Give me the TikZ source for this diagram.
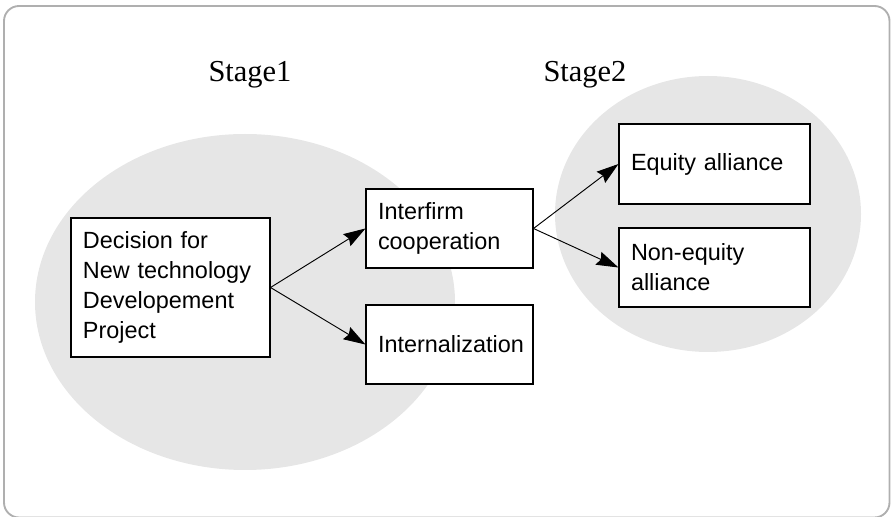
\documentclass[tikz,border=0pt]{standalone}
\usepackage{fontspec}
\setmainfont{Liberation Serif}
\setsansfont{Liberation Sans}
\usepackage{xcolor}
\usetikzlibrary{positioning,arrows.meta}
\definecolor{zonegray}{RGB}{230,230,230}
\definecolor{framegray}{RGB}{175,175,175}

\begin{document}
\begin{tikzpicture}[
	x=0.03cm, y=-0.03cm,
	box/.style={ % khung chu nhat co chu
		draw=black, line width=0.9pt,
		fill=white,
		font=\sffamily\fontsize{20}{25.5}\selectfont,
		align=left,
		inner xsep=0.36cm,
		inner ysep=0pt
	},
	stage/.style={ % tieu de giai doan
		font=\rmfamily\fontsize{26}{30}\selectfont
	},
	flow/.style={ % mui ten noi cac khung
		-{Stealth[length=0.66cm, width=0.42cm, inset=0.08cm]},
		black, line width=0.8pt
	}
	]
	\useasboundingbox (0,0) rectangle (891,517);
	
	% Khung ngoai bo goc
	\draw[framegray, line width=1.6pt, rounded corners=0.45cm] (4,6) rectangle (889.5,517.5);
	
	% Hai vung nen xam
	\fill[zonegray] (245,302) ellipse [x radius=210, y radius=168];
	\fill[zonegray] (708,214) ellipse [x radius=153, y radius=138];
	
	% Tieu de
	\node[stage] (st1) at (250,75) {Stage1};
	\node[stage] (st2) at (585,75) {Stage2};
	
	% ================= GIAI DOAN 1 =================
	\node[box, text width=5.25cm, minimum height=4.17cm] (dec) at (170.5,287.5)
		{Decision for\\New technology\\Developement\\Project};
	\node[box, text width=4.29cm, minimum height=2.37cm] (coop) at (449.5,228.5)
		{Interfirm\\cooperation};
	\node[box, text width=4.29cm, minimum height=2.37cm] (intern) at (449.5,344.5)
		{Internalization};
	
	% ================= GIAI DOAN 2 =================
	\node[box, text width=5.01cm, minimum height=2.40cm] (eq) at (714.5,164)
		{Equity alliance};
	\node[box, text width=5.01cm, minimum height=2.37cm] (neq) at (714.5,267.5)
		{Non-equity\\alliance};
	
	% Mui ten
	\draw[flow] (dec.east) -- (coop.west);
	\draw[flow] (dec.east) -- (intern.west);
	\draw[flow] (coop.east) -- (eq.west);
	\draw[flow] (coop.east) -- (neq.west);
	
\end{tikzpicture}
\end{document}
